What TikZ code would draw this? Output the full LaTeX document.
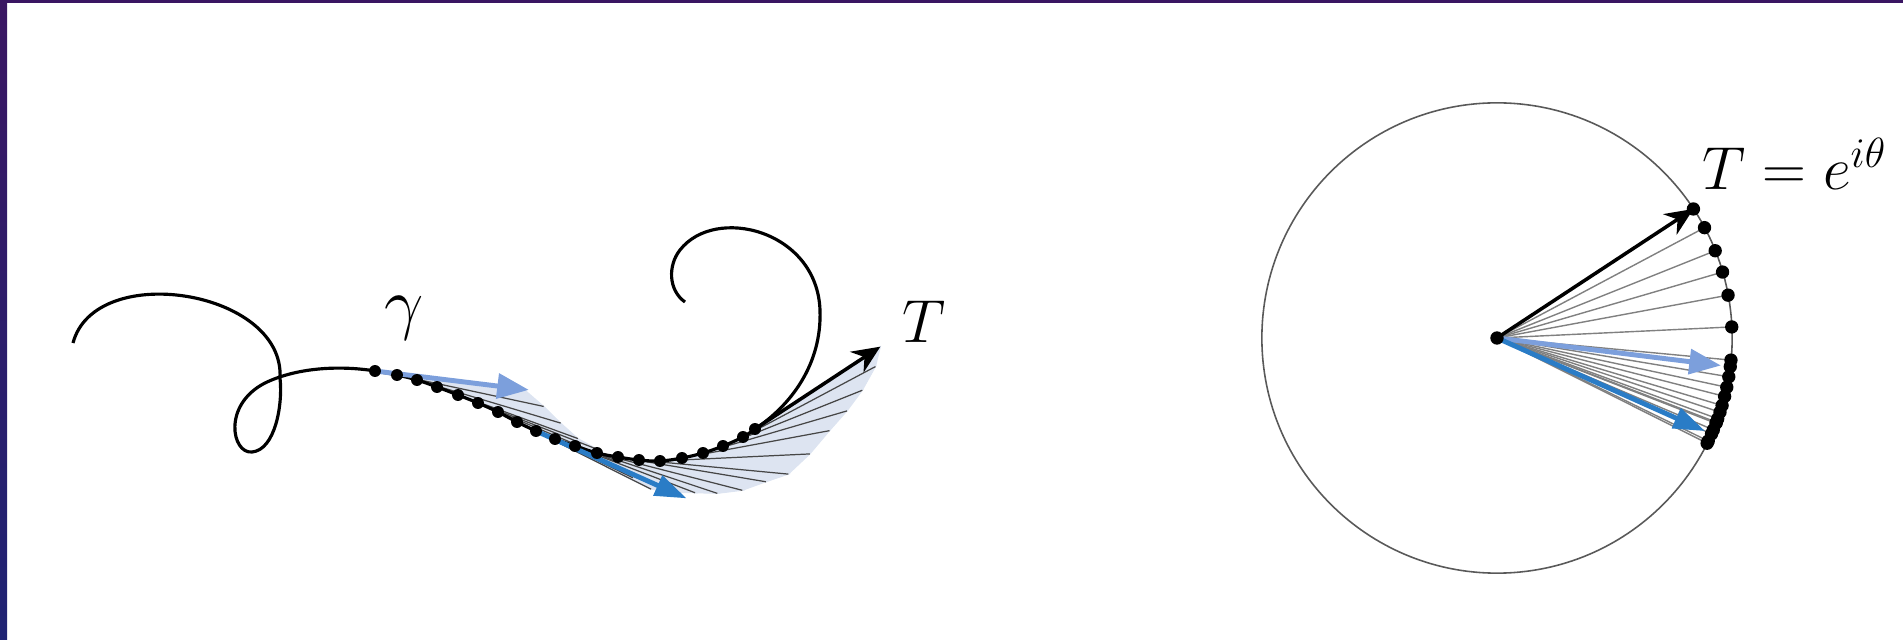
\documentclass[tikz,border=0pt]{standalone}
\usetikzlibrary{arrows.meta,calc}
\definecolor{framepurple}{HTML}{3A1662}
\definecolor{framenavy}{HTML}{1F2373}
\definecolor{paleblue}{HTML}{7C9FDC}
\definecolor{deepblue}{HTML}{2A7CC6}
\definecolor{fanblue}{HTML}{DDE4F1}
\tikzset{
  gammaline/.style={line width=0.9pt},
  tangentline/.style={gray!55!black, line width=0.35pt},
  radialline/.style={gray, line width=0.4pt},
  fanpiece/.style={fill=fanblue, draw=fanblue, line width=0.3pt},
  blackvec/.style={line width=1pt, -{Stealth[length=8pt,width=7pt]}},
  palevec/.style={paleblue, line width=1.4pt, -{Triangle[length=9pt,width=7pt]}},
  deepvec/.style={deepblue, line width=1.4pt, -{Triangle[length=9pt,width=6pt]}},
  label/.style={font=\LARGE}
}
\begin{document}
\begin{tikzpicture}[x=0.01cm, y=-0.01cm]
  \useasboundingbox (0,0) rectangle (1903,640);
  % frame strips
  \shade[top color=framepurple, bottom color=framenavy] (0,0) rectangle (7,640);
  \fill[framepurple] (0,0) rectangle (1903,3);

  % sample points on gamma with their tangent angles
  \foreach \x/\y/\a [count=\i] in {375/371/7, 397/375/12.1, 417/380/16.7, 437/387/20.1,
      458/395/21.3, 478/403/23, 498/412/26, 517/422/26.6, 536/431/24.1, 555/439/21,
      575/446/18.4, 597/453/14.4, 618/457/9.5, 639/460/5.4, 660/461/-2.7,
      682/458/-10.5, 703/453/-16.3, 723/446/-21.8, 743/437/-28, 755/429/-33.3}{
    \coordinate (d\i) at (\x,\y);
    \coordinate (t\i) at ($(d\i)+(\a:150)$);
    \coordinate (c\i) at ($(1497,338)+(\a:235)$);
  }
  \coordinate (o) at (1497,338);

  % swept tangents along gamma
  \foreach \i in {1,...,19}{
    \pgfmathtruncatemacro{\j}{\i+1}
    \fill[fanpiece] (d\i) -- (t\i) -- (t\j) -- (d\j) -- cycle;
  }
  \foreach \i in {2,...,19}
    \draw[tangentline] (d\i) -- (t\i);

  % the curve gamma
  \draw[gammaline] (73,343) .. controls (95,260) and (285,290) .. (280,378)
    .. controls (283,405) and (275,450) .. (252,452)
    .. controls (232,454) and (222,405) .. (265,383)
    .. controls (300,366) and (345,366) .. (d1);
  \draw[gammaline] plot[smooth, tension=0.6] coordinates {
    (375,371) (397,375) (417,380) (437,387) (458,395) (478,403) (498,412)
    (517,422) (536,431) (555,439) (575,446) (597,453) (618,457) (639,460)
    (660,461) (682,458) (703,453) (723,446) (743,437) (755,429)};
  \draw[gammaline] (d20) .. controls (790,406) and (822,365) .. (820,310)
    .. controls (817,230) and (715,205) .. (680,250)
    .. controls (668,265) and (668,290) .. (685,302);

  \draw[palevec] (d1) -- ($(d1)+(7:155)$);
  \draw[deepvec] (d9) -- ($(d9)+(24.1:165)$);
  \draw[blackvec] (d20) -- (t20);
  \foreach \i in {1,...,20}
    \fill (d\i) circle (1.7pt);

  \node[label, scale=1.15] (gam) at (404,318) {$\gamma$};
  \node[label] (tl) at (924,322) {$T$};

  % unit circle with the tangent directions
  \draw[gray!70!black, line width=0.45pt] (o) circle[radius=2.35cm];
  \foreach \i in {2,...,19}
    \draw[radialline] (o) -- (c\i);
  \draw[palevec] (o) -- ($(o)!0.96!(c1)$);
  \draw[deepvec] (o) -- ($(o)!0.97!(c9)$);
  \draw[blackvec] (o) -- (c20);
  \foreach \i in {1,...,20}
    \fill (c\i) circle (1.9pt);
  \fill (o) circle (1.9pt);

  \node[label, anchor=base west] (tr) at (1690,190) {$T=e^{i\theta}$};
\end{tikzpicture}
\end{document}
